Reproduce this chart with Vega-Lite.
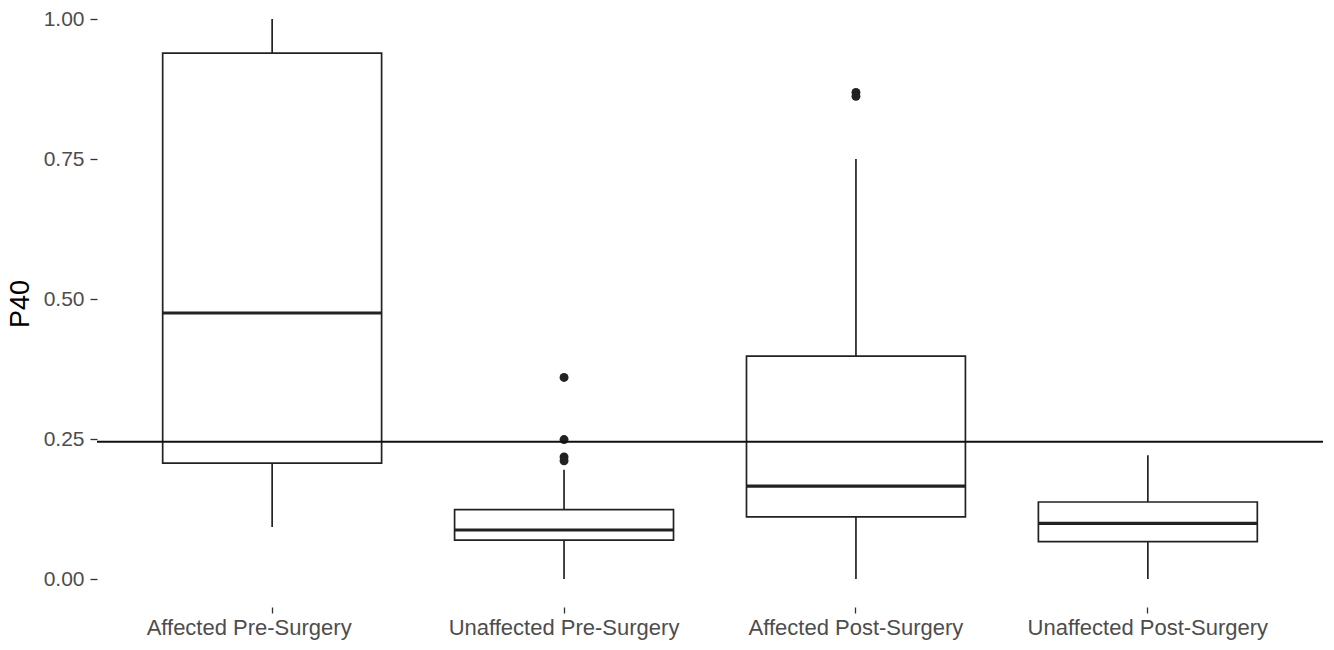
{
  "$schema": "https://vega.github.io/schema/vega-lite/v6.json",
  "width": 1226,
  "height": 607,
  "autosize": "none",
  "padding": {"left": 97, "top": 0, "right": 11, "bottom": 43},
  "background": "white",
  "config": {
    "view": {"stroke": null},
    "font": "Liberation Sans",
    "axis": {"grid": false, "domain": false, "tickColor": "#333333", "tickWidth": 1.3, "tickSize": 7, "labelColor": "#4d4d4d", "labelFont": "Liberation Sans", "titleFont": "Liberation Sans", "labelLimit": 0}
  },
  "datasets": {
    "boxes": [
      {"group": "Affected Pre-Surgery", "lower": 0.093, "q1": 0.207, "median": 0.475, "q3": 0.939, "upper": 1.0},
      {"group": "Unaffected Pre-Surgery", "lower": 0.0, "q1": 0.0696, "median": 0.0875, "q3": 0.124, "upper": 0.195},
      {"group": "Affected Post-Surgery", "lower": 0.0, "q1": 0.111, "median": 0.166, "q3": 0.398, "upper": 0.75},
      {"group": "Unaffected Post-Surgery", "lower": 0.0, "q1": 0.0667, "median": 0.0994, "q3": 0.1375, "upper": 0.221}
    ],
    "outliers": [
      {"group": "Unaffected Pre-Surgery", "P40": 0.36},
      {"group": "Unaffected Pre-Surgery", "P40": 0.249},
      {"group": "Unaffected Pre-Surgery", "P40": 0.218},
      {"group": "Unaffected Pre-Surgery", "P40": 0.211},
      {"group": "Affected Post-Surgery", "P40": 0.869},
      {"group": "Affected Post-Surgery", "P40": 0.862}
    ]
  },
  "encoding": {
    "x": {
      "field": "group", "type": "nominal",
      "sort": ["Affected Pre-Surgery", "Unaffected Pre-Surgery", "Affected Post-Surgery", "Unaffected Post-Surgery"],
      "scale": {"domain": ["Affected Pre-Surgery", "Unaffected Pre-Surgery", "Affected Post-Surgery", "Unaffected Post-Surgery"], "paddingInner": 0.25, "paddingOuter": 0.225},
      "axis": {"title": null, "labelAngle": 0, "labelFontSize": 22, "labelPadding": 4, "tickSize": 6,
        "labelOffset": {"condition": {"test": "datum.value === 'Affected Pre-Surgery'", "value": -23}, "value": 0}}
    }
  },
  "layer": [
    {
      "data": {"name": "boxes"},
      "mark": {"type": "rule", "color": "#222222", "strokeWidth": 1.7},
      "encoding": {
        "y": {"field": "lower", "type": "quantitative", "scale": {"domain": [-0.05, 1.034], "nice": false, "zero": false},
          "axis": {"title": "P40", "values": [0, 0.25, 0.5, 0.75, 1.0], "format": ".2f", "labelFontSize": 21, "labelPadding": 6, "titleFontSize": 27, "titleFontWeight": "normal", "titleColor": "#000000", "titlePadding": 9}},
        "y2": {"field": "upper"}
      }
    },
    {
      "data": {"name": "boxes"},
      "mark": {"type": "bar", "fill": "white", "stroke": "#222222", "strokeWidth": 1.7},
      "encoding": {
        "y": {"field": "q1", "type": "quantitative"},
        "y2": {"field": "q3"}
      }
    },
    {
      "data": {"name": "boxes"},
      "mark": {"type": "tick", "color": "#222222", "thickness": 3.2, "size": 219, "opacity": 1},
      "encoding": {
        "y": {"field": "median", "type": "quantitative"}
      }
    },
    {
      "data": {"name": "outliers"},
      "mark": {"type": "circle", "color": "#222222", "size": 80, "opacity": 1},
      "encoding": {
        "y": {"field": "P40", "type": "quantitative"}
      }
    },
    {
      "data": {"values": [{}]},
      "mark": {"type": "rule", "color": "#111111", "strokeWidth": 2},
      "encoding": {
        "x": null,
        "y": {"datum": 0.245, "type": "quantitative"}
      }
    }
  ]
}
